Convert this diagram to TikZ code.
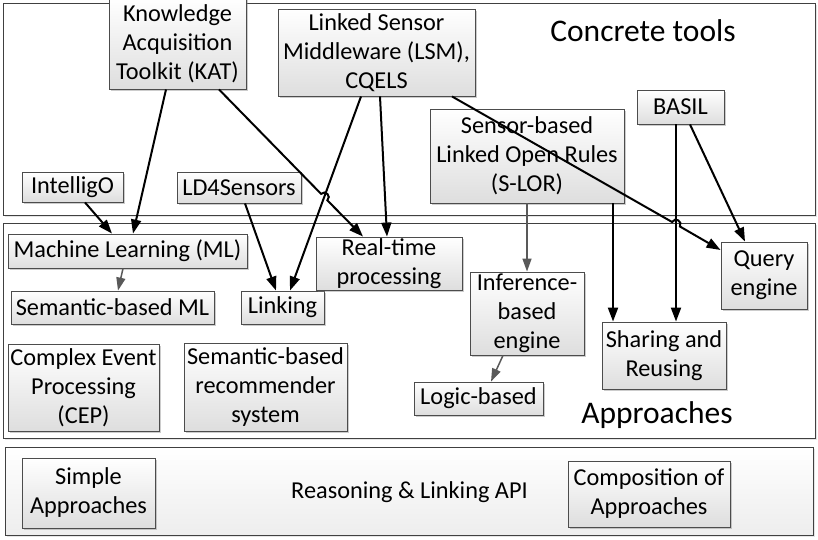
\documentclass[tikz,border=0pt]{standalone}
\usepackage{fontspec}
\setmainfont{Carlito}
\usetikzlibrary{shadows,arrows.meta}
\newcommand\fsbox{\fontsize{24.3}{29}\selectfont}
\newcommand\fstitle{\fontsize{31.5}{38}\selectfont}
\tikzset{
  wh/.style 2 args={minimum width=#1pt, minimum height=#2pt},
  box/.style={draw=black!70, line width=0.9pt, top color=white, bottom color=black!13,
    inner sep=0pt, align=center, font=\fsbox,
    drop shadow={shadow xshift=2pt, shadow yshift=-2pt, opacity=0.4, fill=black!50}},
  container/.style={draw=black!75, line width=0.9pt, fill=white, inner sep=0pt,
    drop shadow={shadow xshift=1.5pt, shadow yshift=-1.5pt, opacity=0.25, fill=black!40}},
  bottomcontainer/.style={container, top color=white, bottom color=black!7},
  title/.style={font=\fstitle, inner sep=0pt},
  plain/.style={font=\fsbox, inner sep=0pt},
  arr/.style={line width=2pt, -{Triangle[length=14pt,width=10pt]}},
  garr/.style={line width=1.5pt, color=black!65, -{Triangle[length=13pt,width=9pt]}}
}
\begin{document}
\begin{tikzpicture}[x=1pt,y=-1pt]
\useasboundingbox (0,0) rectangle (818,539);
% containers
\node[container, wh={812}{212}] (ctools) at (409,109) {};
\node[container, wh={812}{215}] (capp) at (409,330.5) {};
\node[bottomcontainer, wh={808}{88}] (capi) at (409,491) {};
\node[title] (lct) at (643,31) {Concrete tools};
\node[title] (lapp) at (657,415) {Approaches};
\node[plain] (lapi) at (409.5,492) {Reasoning \& Linking API};
% concrete tools
\node[box, wh={137}{91}] (kat) at (177.5,43.5) {Knowledge\\Acquisition\\Toolkit (KAT)};
\node[box, wh={197}{87}] (lsm) at (376.5,52.5) {Linked Sensor\\Middleware (LSM),\\CQELS};
\node[box, wh={101}{30}] (intel) at (72.5,187) {IntelligO};
\node[box, wh={124}{31}] (ld4) at (239,187.5) {LD4Sensors};
\node[box, wh={194}{94}] (slor) at (527,156) {Sensor-based\\Linked Open Rules\\(S-LOR)};
\node[box, wh={87}{34}] (basil) at (680.5,107) {BASIL};
% approaches
\node[box, wh={239}{34}] (ml) at (127.5,251) {Machine Learning (ML)};
\node[box, wh={203}{33}] (sml) at (112.5,307.5) {Semantic-based ML};
\node[box, wh={83}{33}] (link) at (282.5,307.5) {Linking};
\node[box, wh={146}{53}] (rt) at (389,263.5) {Real-time\\processing};
\node[box, wh={151}{87}] (cep) at (83.5,387.5) {Complex Event\\Processing\\(CEP)};
\node[box, wh={163}{88}] (srec) at (265.5,387) {Semantic-based\\recommender\\system};
\node[box, wh={114}{83}] (inf) at (527,313.5) {Inference-\\based\\engine};
\node[box, wh={129}{33}] (logic) at (478.5,398.5) {Logic-based};
\node[box, wh={124}{67}] (share) at (664,355.5) {Sharing and\\Reusing};
\node[box, wh={86}{67}] (query) at (764,275.5) {Query\\engine};
% API
\node[box, wh={133}{70}] (simple) at (88.5,493) {Simple\\Approaches};
\node[box, wh={162}{66}] (comp) at (649,494) {Composition of\\Approaches};
% jump coordinates
\coordinate (j1a) at (321.06,193.87);
\coordinate (j1b) at (327.34,200.33);
\coordinate (j2a) at (672.09,222.00);
\coordinate (j2b) at (679.91,226.48);
% connectors
\draw[arr] ([xshift=12.5pt]intel.south) -- ([xshift=-15.5pt]ml.north);
\draw[arr] ([xshift=-11.5pt]kat.south) -- ([xshift=5.5pt]ml.north);
\draw[arr] ([xshift=41.5pt]kat.south) -- (j1a) .. controls (325.36,189.69) and (331.64,196.15) .. (j1b) -- ([xshift=-26pt]rt.north);
\draw[arr] ([xshift=-15.5pt]lsm.south) -- ([xshift=7.5pt]link.north);
\draw[arr] ([xshift=3.5pt]lsm.south) -- ([xshift=-2pt]rt.north);
\draw[arr] ([xshift=6pt]ld4.south) -- ([xshift=-6.5pt]link.north);
\draw[garr] ([xshift=-4.5pt]ml.south) -- ([xshift=5.5pt]sml.north);
\draw[arr] ([xshift=75.5pt]lsm.south) -- (j2a) .. controls (675.07,216.79) and (682.89,221.27) .. (j2b) -- ([yshift=25.5pt]query.west);
\draw[arr] ([xshift=-4.5pt]basil.south) -- ([xshift=12pt]share.north);
\draw[arr] ([xshift=9.5pt]basil.south) -- ([xshift=-19pt]query.north);
\draw[garr] (slor.south) -- (inf.north);
\draw[arr] ([xshift=86pt]slor.south) -- ([xshift=-51pt]share.north);
\draw[garr] ([xshift=-24pt]inf.south) -- ([xshift=12.5pt]logic.north);
\end{tikzpicture}
\end{document}
